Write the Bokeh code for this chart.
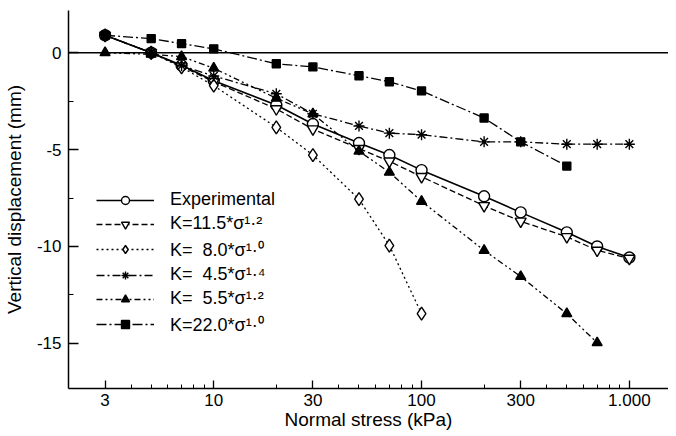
import numpy as np
from bokeh.plotting import figure
from bokeh.models import (Range1d, FixedTicker, Span, Legend, LegendItem)
from bokeh.embed import file_html
from bokeh.resources import INLINE

# ---- data ----
stress = [3, 5, 7, 10, 20, 30, 50, 70, 100, 200, 300, 500, 700, 1000]
exp_y = [0.9, 0.0, -0.65, -1.45, -2.7, -3.68, -4.66, -5.28, -6.06, -7.41, -8.24, -9.27, -10.0, -10.57]
k115_y = [0.9, 0.0, -0.7, -1.5, -2.9, -3.94, -4.95, -5.6, -6.4, -7.9, -8.7, -9.5, -10.2, -10.62]
k80_x = [3, 5, 7, 10, 20, 30, 50, 70, 100]
k80_y = [0.9, 0.0, -0.75, -1.7, -3.85, -5.28, -7.56, -9.95, -13.47]
k45_y = [0.9, 0.0, -0.67, -1.2, -2.12, -3.15, -3.78, -4.15, -4.23, -4.6, -4.6, -4.72, -4.72, -4.72]
k55_x = [3, 5, 7, 10, 20, 30, 50, 70, 100, 200, 300, 500, 700]
k55_y = [0.0, -0.08, -0.2, -0.8, -2.35, -3.16, -5.08, -6.17, -7.67, -10.2, -11.55, -13.47, -14.97]
k220_x = [3, 5, 7, 10, 20, 30, 50, 70, 100, 200, 300, 500]
k220_y = [0.9, 0.73, 0.47, 0.2, -0.57, -0.73, -1.19, -1.5, -1.97, -3.37, -4.6, -5.85]

labels = ["Experimental",
          "K=11.5*\u03c3\u00b9\u00b7\u00b2",
          "K=\u00a0\u00a08.0*\u03c3\u00b9\u00b7\u2070",
          "K=\u00a0\u00a04.5*\u03c3\u00b9\u00b7\u2074",
          "K=\u00a0\u00a05.5*\u03c3\u00b9\u00b7\u00b2",
          "K=22.0*\u03c3\u00b9\u00b7\u2070"]
x_ticks = [3, 10, 30, 100, 300, 1000]
x_tick_labels = ["3", "10", "30", "100", "300", "1.000"]
y_ticks = [-15, -10, -5, 0]

FONT = "Liberation Sans"

p = figure(width=668, height=432, x_axis_type="log",
           x_range=Range1d(2, 1543), y_range=Range1d(-17.33, 2.18),
           output_backend="svg", toolbar_location=None,
           min_border_left=66, min_border_right=0, min_border_top=10,
           min_border_bottom=0)
p.outline_line_color = None
p.grid.visible = False
p.background_fill_color = "white"

# zero line
p.add_layout(Span(location=0, dimension="width", line_color="black", line_width=1.5))

# axes
xa = p.xaxis[0]
minor_x = [4, 5, 6, 7, 8, 9, 20, 40, 50, 60, 70, 80, 90, 200, 400, 500, 600, 700, 800, 900]
xa.ticker = FixedTicker(ticks=x_ticks, minor_ticks=minor_x)
xa.major_label_overrides = {t: l for t, l in zip(x_ticks, x_tick_labels)}
xa.axis_label = "Normal stress (kPa)"
xa.major_tick_in = 8
xa.major_tick_out = 0
xa.minor_tick_in = 4
xa.minor_tick_out = 0
xa.major_label_standoff = 5
xa.axis_label_standoff = 0

ya = p.yaxis[0]
ya.ticker = FixedTicker(ticks=y_ticks, minor_ticks=[-12.5, -7.5, -2.5])
ya.major_label_overrides = {t: str(t) for t in y_ticks}
ya.axis_label = "Vertical displacement (mm)"
ya.major_tick_in = 10
ya.major_tick_out = 0
ya.minor_tick_in = 5
ya.minor_tick_out = 0
ya.major_label_standoff = 7
ya.axis_label_standoff = 9

for ax in (xa, ya):
    ax.axis_line_color = "black"
    ax.axis_line_width = 1.5
    ax.major_tick_line_width = 1.3
    ax.minor_tick_line_width = 1
    ax.major_label_text_font = FONT
    ax.major_label_text_font_size = "17px"
    ax.major_label_text_color = "black"
    ax.axis_label_text_font = FONT
    ax.axis_label_text_font_size = "19px"
    ax.axis_label_text_font_style = "normal"
    ax.axis_label_text_color = "black"

items = []

def series(xs, ys, dash, lw, marker, size, fill, label):
    ln = p.line(xs, ys, line_color="black", line_width=lw, line_dash=dash)
    sc = p.scatter(xs, ys, marker=marker, size=size, line_color="black",
                   fill_color=fill, line_width=1.4)
    items.append(LegendItem(label=label, renderers=[ln, sc]))

series(stress, exp_y, "solid", 1.6, "circle", 11, "white", labels[0])
series(stress, k115_y, "6 3", 1.3, "inverted_triangle", 11, "white", labels[1])
series(k80_x, k80_y, "2 3", 1.3, "diamond", 13, "white", labels[2])
series(stress, k45_y, "8 3 2 3", 1.3, "asterisk", 11, "black", labels[3])
series(k55_x, k55_y, "6 3 2 3 2 3", 1.3, "triangle", 10, "black", labels[4])
series(k220_x, k220_y, "10 3 2 3", 1.3, "square", 8, "black", labels[5])

legend = Legend(items=items, location=(28, 52), margin=0, padding=0,
                border_line_color=None, background_fill_alpha=0,
                glyph_width=58, glyph_height=20, label_height=20,
                spacing=3, label_standoff=16,
                label_text_font=FONT, label_text_font_size="18px",
                label_text_color="black")
p.add_layout(legend)

open("out.html", "w").write(file_html(p, INLINE))
